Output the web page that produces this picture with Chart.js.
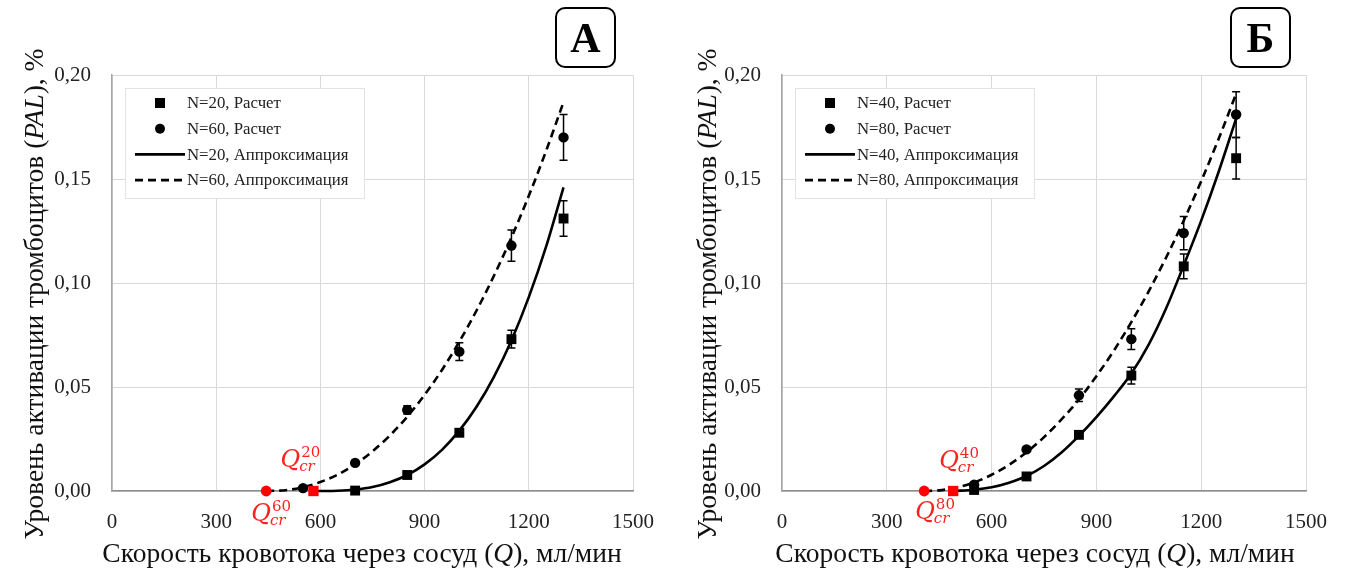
<!DOCTYPE html>
<html>
<head>
<meta charset="utf-8">
<script src="https://cdn.jsdelivr.net/npm/chart.js@4.4.1/dist/chart.umd.min.js"></script>
<style>
html, body { margin: 0; padding: 0; background: #fff; }
#wrap { position: relative; width: 1346px; height: 574px; }
.panel { position: absolute; top: 0; width: 673px; height: 574px; }
</style>
</head>
<body>
<div id="wrap">
	<div class="panel" style="left:0"><canvas id="chart-a" width="673" height="574"></canvas></div>
	<div class="panel" style="left:673px"><canvas id="chart-b" width="673" height="574"></canvas></div>
</div>
<script>

// ticks
var xTicks = [0, 300, 600, 900, 1200, 1500];
var yTicks = [0, 0.05, 0.10, 0.15, 0.20];

// panel A : calculated points, N=20 / N=60
var qN20 = [700, 850, 1000, 1150, 1300];
var palN20 = [0.0002, 0.0077, 0.028, 0.073, 0.131];
var errN20 = [0.001, 0.0015, 0.0015, 0.0043, 0.0085];

var qN60 = [550, 700, 850, 1000, 1150, 1300];
var palN60 = [0.0014, 0.0135, 0.039, 0.067, 0.118, 0.170];
var errN60 = [0.0005, 0.001, 0.002, 0.0043, 0.0075, 0.011];

// panel A : approximation curves
var qFitN20 = [580, 600, 650, 700, 750, 800, 850, 900, 950, 1000, 1050, 1100, 1150, 1200, 1250, 1300];
var fitN20 = [0, 0.00001, 0.00013, 0.0007, 0.0019, 0.0042, 0.0077, 0.0128, 0.0198, 0.029, 0.0406, 0.055, 0.0724, 0.0932, 0.1176, 0.146];

var qFitN60 = [444, 500, 550, 600, 650, 700, 750, 800, 850, 900, 950, 1000, 1050, 1100, 1150, 1200, 1250, 1300];
var fitN60 = [0, 0.0004, 0.0018, 0.0043, 0.0079, 0.0128, 0.0191, 0.0267, 0.0357, 0.0462, 0.0582, 0.0718, 0.0869, 0.1036, 0.1219, 0.1419, 0.1636, 0.187];

// panel A : critical flow rates
var qCr20 = 580;
var qCr60 = 444;

// panel B : calculated points, N=40 / N=80
var qN40 = [550, 700, 850, 1000, 1150, 1300];
var palN40 = [0.0005, 0.007, 0.027, 0.0555, 0.108, 0.160];
var errN40 = [0.0005, 0.001, 0.0015, 0.004, 0.006, 0.010];

var qN80 = [550, 700, 850, 1000, 1150, 1300];
var palN80 = [0.003, 0.020, 0.046, 0.073, 0.124, 0.181];
var errN80 = [0.0005, 0.001, 0.003, 0.005, 0.008, 0.011];

// panel B : approximation curves
var qFitN40 = [490, 550, 600, 650, 700, 750, 800, 850, 900, 950, 1000, 1050, 1100, 1150, 1200, 1250, 1300];
var fitN40 = [0, 0.0006, 0.0018, 0.0040, 0.0072, 0.0120, 0.0185, 0.0265, 0.0355, 0.0455, 0.0565, 0.0705, 0.0880, 0.1085, 0.130, 0.1535, 0.179];

var qFitN80 = [407, 450, 500, 550, 600, 650, 700, 750, 800, 850, 900, 950, 1000, 1050, 1100, 1150, 1200, 1250, 1300];
var fitN80 = [0, 0.0003, 0.0017, 0.0041, 0.0078, 0.0126, 0.0186, 0.0259, 0.0344, 0.044, 0.0552, 0.0675, 0.0812, 0.0961, 0.1124, 0.130, 0.149, 0.1693, 0.191];

// panel B : critical flow rates
var qCr40 = 490;
var qCr80 = 407;


var SERIF = "'Liberation Serif', 'Times New Roman', serif";

var PalChartController = function(){

	var init = function (item){

		initialize(item);
	}

	return {
		init : init
	}

	function initialize(item){

		var datasets = [
		{
			label : item.names[0] + ", Расчет",
			data : toPoints(item.qA, item.palA),
			errors : item.errA,
			pointStyle : "rect",
			pointRadius : 7,
			backgroundColor : "#000",
			borderColor : "#000",
			borderWidth : 0,
			showLine : false,
			order : 1,
			clip : false
		},
		{
			label : item.names[1] + ", Расчет",
			data : toPoints(item.qB, item.palB),
			errors : item.errB,
			pointStyle : "circle",
			pointRadius : 5.2,
			backgroundColor : "#000",
			borderColor : "#000",
			borderWidth : 0,
			showLine : false,
			order : 1,
			clip : false
		},
		{
			label : item.names[0] + ", Аппроксимация",
			data : toPoints(item.qFitA, item.fitA),
			showLine : true,
			pointRadius : 0,
			borderColor : "#000",
			borderWidth : 2.6,
			cubicInterpolationMode : "monotone",
			order : 2,
			clip : false
		},
		{
			label : item.names[1] + ", Аппроксимация",
			data : toPoints(item.qFitB, item.fitB),
			showLine : true,
			pointRadius : 0,
			borderColor : "#000",
			borderWidth : 2.6,
			borderDash : [8, 5],
			cubicInterpolationMode : "monotone",
			order : 2,
			clip : false
		},
		{
			label : "crit-a",
			data : [{x : item.crA, y : 0}],
			pointStyle : "rect",
			pointRadius : 7.3,
			backgroundColor : "#ff0000",
			borderWidth : 0,
			showLine : false,
			order : 0,
			clip : false
		},
		{
			label : "crit-b",
			data : [{x : item.crB, y : 0}],
			pointStyle : "circle",
			pointRadius : 5.4,
			backgroundColor : "#ff0000",
			borderWidth : 0,
			showLine : false,
			order : 0,
			clip : false
		}];

		var ctx = document.getElementById(item.canvas).getContext("2d");

		new Chart(ctx, {
			type : "scatter",
			data : { datasets : datasets },
			plugins : [errorBars, decorations],
			options : {
				responsive : false,
				animation : false,
				layout : { padding : { left : 0, top : 75, right : item.padRight, bottom : 0 } },
				plugins : {
					legend : { display : false },
					tooltip : { enabled : false },
					panel : item
				},
				scales : {
					x : {
						type : "linear",
						min : 0,
						max : 1500,
						afterBuildTicks : function(scale){ scale.ticks = xTicks.map(function(v){ return {value : v}; }); },
						afterFit : function(scale){ scale.height = 83; },
						grid : { color : "#d9d9d9", lineWidth : 1, drawTicks : false },
						border : { color : "#8c8c8c", width : 1.5 },
						ticks : {
							padding : 19,
							color : "#222",
							font : { family : SERIF, size : 21 },
							maxRotation : 0,
							callback : function(v){ return String(v); }
						}
					},
					y : {
						type : "linear",
						min : 0,
						max : 0.2,
						afterBuildTicks : function(scale){ scale.ticks = yTicks.map(function(v){ return {value : v}; }); },
						afterFit : function(scale){ scale.width = item.left; },
						grid : { color : "#d9d9d9", lineWidth : 1, drawTicks : false },
						border : { color : "#a6a6a6", width : 1.5 },
						ticks : {
							padding : 21,
							color : "#222",
							font : { family : SERIF, size : 21 },
							callback : function(v){ return v.toFixed(2).replace(".", ","); }
						}
					}
				}
			}
		});
	}

	function toPoints(xs, ys){

		return xs.map(function(x, i){ return {x : x, y : ys[i]}; });
	}
}();


// vertical error bars, drawn under the markers
var errorBars = {
	id : "errorBars",
	beforeDatasetsDraw : function(chart){
		var ctx = chart.ctx, xs = chart.scales.x, ys = chart.scales.y;
		ctx.save();
		ctx.strokeStyle = "#000";
		ctx.lineWidth = 1.5;
		chart.data.datasets.forEach(function(ds){
			if (!ds.errors) return;
			ds.data.forEach(function(p, j){
				var e = ds.errors[j];
				var x = xs.getPixelForValue(p.x);
				var y1 = ys.getPixelForValue(p.y + e);
				var y2 = ys.getPixelForValue(Math.max(p.y - e, 0));
				ctx.beginPath();
				ctx.moveTo(x, y1); ctx.lineTo(x, y2);
				ctx.moveTo(x - 4, y1); ctx.lineTo(x + 4, y1);
				ctx.moveTo(x - 4, y2); ctx.lineTo(x + 4, y2);
				ctx.stroke();
			});
		});
		ctx.restore();
	}
};

// text with italic pieces
function richText(ctx, parts, size, cx, y){
	var total = 0;
	parts.forEach(function(p){
		ctx.font = (p.italic ? "italic " : "") + size + "px " + SERIF;
		p.w = ctx.measureText(p.text).width;
		total += p.w;
	});
	var x = cx - total / 2;
	parts.forEach(function(p){
		ctx.font = (p.italic ? "italic " : "") + size + "px " + SERIF;
		ctx.fillText(p.text, x, y);
		x += p.w;
	});
}

function critLabel(ctx, x, y, sup){
	ctx.fillStyle = "#ff2020";
	ctx.textAlign = "left";
	ctx.textBaseline = "alphabetic";
	ctx.font = "italic 24px 'DejaVu Serif', serif";
	ctx.fillText("Q", x, y);
	var w = ctx.measureText("Q").width;
	ctx.font = "15px 'DejaVu Serif', serif";
	ctx.fillText(sup, x + w + 1, y - 10);
	ctx.font = "italic 15px 'DejaVu Serif', serif";
	ctx.fillText("cr", x + w - 1, y + 4);
}

var decorations = {
	id : "decorations",
	afterDraw : function(chart){
		var item = chart.options.plugins.panel;
		var ctx = chart.ctx, area = chart.chartArea;
		var xs = chart.scales.x, ys = chart.scales.y;
		var ds = chart.data.datasets;
		ctx.save();

		// legend box
		var lx = area.left + 13, ly = 88;
		ctx.fillStyle = "#fff";
		ctx.fillRect(lx, ly, 239, 110);
		ctx.strokeStyle = "#e3e3e3";
		ctx.lineWidth = 1;
		ctx.strokeRect(lx + 0.5, ly + 0.5, 239, 110);
		ctx.font = "16.8px " + SERIF;
		ctx.textBaseline = "middle";
		ctx.textAlign = "left";
		for (var i = 0; i < 4; i++){
			var ry = ly + 15 + i * 25.7;
			ctx.fillStyle = "#000";
			ctx.strokeStyle = "#000";
			if (i == 0) ctx.fillRect(lx + 30, ry - 5, 10, 10);
			if (i == 1){ ctx.beginPath(); ctx.arc(lx + 35, ry, 5, 0, Math.PI * 2); ctx.fill(); }
			if (i >= 2){
				ctx.lineWidth = 2.6;
				ctx.setLineDash(ds[i].borderDash || []);
				ctx.beginPath(); ctx.moveTo(lx + 10, ry); ctx.lineTo(lx + 60, ry); ctx.stroke();
				ctx.setLineDash([]);
			}
			ctx.fillStyle = "#222";
			ctx.fillText(ds[i].label, lx + 62, ry + 1);
		}

		// panel letter
		ctx.lineWidth = 2;
		ctx.strokeStyle = "#000";
		ctx.beginPath();
		ctx.roundRect(item.boxX, 8, 59, 59, 9);
		ctx.stroke();
		ctx.fillStyle = "#000";
		ctx.font = "bold 42px " + SERIF;
		ctx.textAlign = "center";
		ctx.textBaseline = "alphabetic";
		ctx.fillText(item.letter, item.boxX + 29.5, 52);

		// critical flow labels
		var y0 = ys.getPixelForValue(0);
		critLabel(ctx, xs.getPixelForValue(item.crA) + item.crAOff[0], y0 + item.crAOff[1], item.supA);
		critLabel(ctx, xs.getPixelForValue(item.crB) + item.crBOff[0], y0 + item.crBOff[1], item.supB);

		// axis titles
		ctx.fillStyle = "#111";
		ctx.textAlign = "left";
		ctx.textBaseline = "alphabetic";
		richText(ctx, [{text : "Скорость кровотока через сосуд ("}, {text : "Q", italic : true}, {text : "), мл/мин"}], 27.5, 362, 562);

		ctx.save();
		ctx.translate(43, 294);
		ctx.rotate(-Math.PI / 2);
		richText(ctx, [{text : "Уровень активации тромбоцитов ("}, {text : "PAL", italic : true}, {text : "), %"}], 27.5, 0, 0);
		ctx.restore();

		ctx.restore();
	}
};


PalChartController.init({
	canvas : "chart-a",
	letter : "А",
	names : ["N=20", "N=60"],
	qA : qN20, palA : palN20, errA : errN20,
	qB : qN60, palB : palN60, errB : errN60,
	qFitA : qFitN20, fitA : fitN20,
	qFitB : qFitN60, fitB : fitN60,
	crA : qCr20, crB : qCr60,
	supA : "20", supB : "60",
	crAOff : [-33, -24], crBOff : [-15, 30],
	left : 112, padRight : 39, boxX : 556
});

PalChartController.init({
	canvas : "chart-b",
	letter : "Б",
	names : ["N=40", "N=80"],
	qA : qN40, palA : palN40, errA : errN40,
	qB : qN80, palB : palN80, errB : errN80,
	qFitA : qFitN40, fitA : fitN40,
	qFitB : qFitN80, fitB : fitN80,
	crA : qCr40, crB : qCr80,
	supA : "40", supB : "80",
	crAOff : [-14, -23], crBOff : [-9, 28],
	left : 109, padRight : 40, boxX : 558
});

</script>
</body>
</html>
